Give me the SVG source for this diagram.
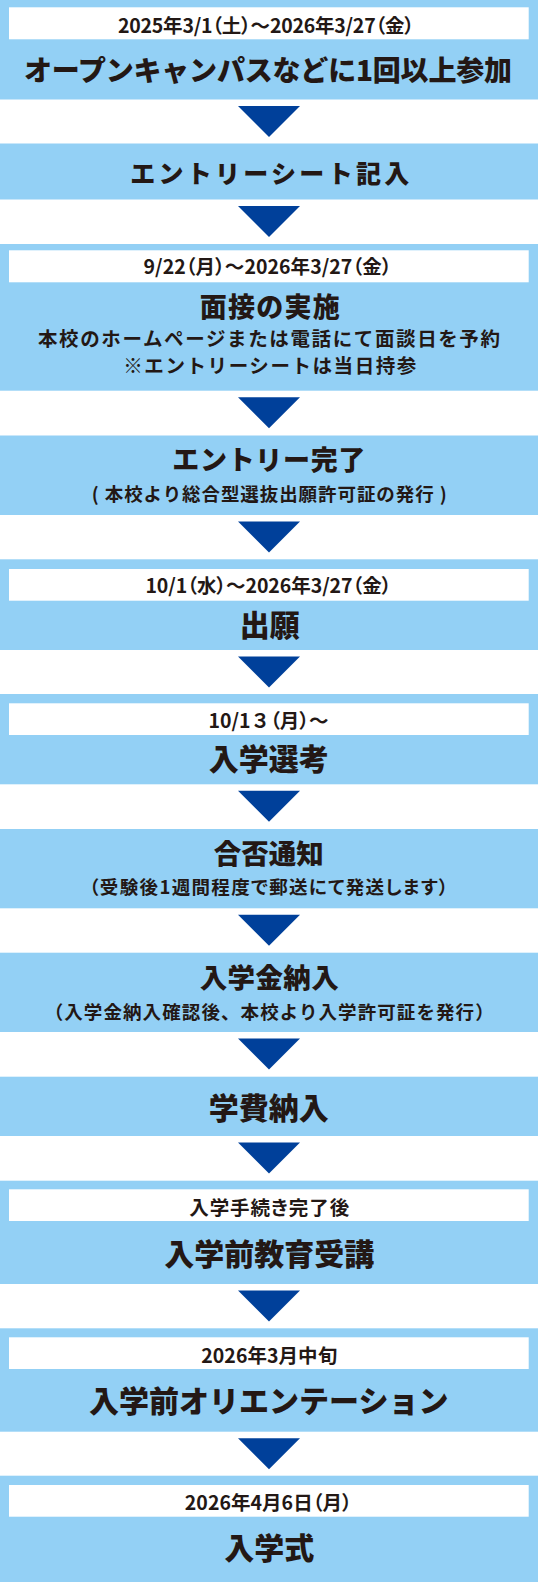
<svg xmlns="http://www.w3.org/2000/svg" width="538" height="1582" viewBox="0 0 538 1582">
<style>
.box{fill:#93D0F5}
.band{fill:#FFFFFF}
.arrow{fill:#00409A}
text{font-family:"Noto Sans CJK JP","Noto Sans CJK SC",sans-serif;fill:#231815;text-anchor:middle}
.t{font-size:30px;font-weight:900}
.d{font-size:19.5px;font-weight:700;font-feature-settings:"palt"}
.s{font-size:19px;font-weight:700}
</style>
<rect x="0" y="0" width="538" height="1582" fill="#FFFFFF"/>
<g id="step1">
<rect class="box" x="0" y="0" width="538" height="99.5"/>
<rect class="band" x="9" y="7.3" width="519.7" height="32"/>
<text class="d" x="266" y="32.7" textLength="296" lengthAdjust="spacing">2025年3/1（土）～2026年3/27（金）</text>
<text class="t" x="268" y="81" style="font-size:28px" textLength="488" lengthAdjust="spacing">オープンキャンパスなどに1回以上参加</text>
</g>
<g id="step2">
<rect class="box" x="0" y="143.5" width="538" height="56"/>
<text class="t" x="269.7" y="183" style="font-size:25px" textLength="279" lengthAdjust="spacing">エントリーシート記入</text>
</g>
<g id="step3">
<rect class="box" x="0" y="244" width="538" height="146.7"/>
<rect class="band" x="9" y="250.3" width="519.7" height="32"/>
<text class="d" x="267.5" y="274.3" textLength="248" lengthAdjust="spacing">9/22（月）～2026年3/27（金）</text>
<text class="t" x="269.7" y="316.7" style="font-size:27px" textLength="140" lengthAdjust="spacing">面接の実施</text>
<text class="s" x="269" y="346" style="font-size:19.5px" textLength="462" lengthAdjust="spacing">本校のホームページまたは電話にて面談日を予約</text>
<text class="s" x="269.8" y="373" style="font-size:19.5px" textLength="293" lengthAdjust="spacing">※エントリーシートは当日持参</text>
</g>
<g id="step4">
<rect class="box" x="0" y="435.5" width="538" height="79.5"/>
<text class="t" x="268.8" y="470" style="font-size:27px" textLength="193" lengthAdjust="spacing">エントリー完了</text>
<text class="s" x="269.2" y="500.5" style="font-size:18.5px" textLength="355" lengthAdjust="spacing">( 本校より総合型選抜出願許可証の発行 )</text>
</g>
<g id="step5">
<rect class="box" x="0" y="559.3" width="538" height="90.7"/>
<rect class="band" x="9" y="569" width="519.7" height="31.7"/>
<text class="d" x="268.4" y="593.3" textLength="246" lengthAdjust="spacing">10/1（水）～2026年3/27（金）</text>
<text class="t" x="269.7" y="636">出願</text>
</g>
<g id="step6">
<rect class="box" x="0" y="694" width="538" height="90.3"/>
<rect class="band" x="9" y="703.3" width="519.7" height="31.7"/>
<text class="d" x="268.5" y="728.3">10/1<tspan style="font-feature-settings:normal">３</tspan>（月）～</text>
<text class="t" x="268.8" y="770">入学選考</text>
</g>
<g id="step7">
<rect class="box" x="0" y="829" width="538" height="79.3"/>
<text class="t" x="268.7" y="863.5" style="font-size:27.5px">合否通知</text>
<text class="s" x="268.7" y="894" style="font-size:18.5px;font-feature-settings:'palt'" textLength="359" lengthAdjust="spacing">（受験後1週間程度で郵送にて発送します）</text>
</g>
<g id="step8">
<rect class="box" x="0" y="952.7" width="538" height="79.3"/>
<text class="t" x="269.2" y="988.3" style="font-size:27.5px" textLength="139" lengthAdjust="spacing">入学金納入</text>
<text class="s" x="269.2" y="1019" style="font-size:18.5px" textLength="449" lengthAdjust="spacing">（入学金納入確認後、本校より入学許可証を発行）</text>
</g>
<g id="step9">
<rect class="box" x="0" y="1076.7" width="538" height="59.3"/>
<text class="t" x="268.7" y="1119">学費納入</text>
</g>
<g id="step10">
<rect class="box" x="0" y="1180.7" width="538" height="103.3"/>
<rect class="band" x="9" y="1189.3" width="519.7" height="31.7"/>
<text class="d" x="269.2" y="1215" textLength="160" lengthAdjust="spacing">入学手続き完了後</text>
<text class="t" x="269.3" y="1265">入学前教育受講</text>
</g>
<g id="step11">
<rect class="box" x="0" y="1328.3" width="538" height="103.4"/>
<rect class="band" x="9" y="1337.3" width="519.7" height="31.7"/>
<text class="d" x="269.2" y="1362.5" textLength="136" lengthAdjust="spacing">2026年3月中旬</text>
<text class="t" x="268.8" y="1411.5">入学前オリエンテーション</text>
</g>
<g id="step12">
<rect class="box" x="0" y="1475.7" width="538" height="106.3"/>
<rect class="band" x="9" y="1485" width="519.7" height="31.7"/>
<text class="d" x="268.3" y="1510" textLength="167" lengthAdjust="spacing">2026年4月6日（月）</text>
<text class="t" x="269.2" y="1559">入学式</text>
</g>
<g id="connectors">
<polygon class="arrow" points="238,106 300,106 269,137"/>
<polygon class="arrow" points="238,206 300,206 269,237"/>
<polygon class="arrow" points="238,397.2 300,397.2 269,428.2"/>
<polygon class="arrow" points="238,521.5 300,521.5 269,552.5"/>
<polygon class="arrow" points="238,656.5 300,656.5 269,687.5"/>
<polygon class="arrow" points="238,790.8 300,790.8 269,821.8"/>
<polygon class="arrow" points="238,914.8 300,914.8 269,945.8"/>
<polygon class="arrow" points="238,1038.5 300,1038.5 269,1069.5"/>
<polygon class="arrow" points="238,1142.5 300,1142.5 269,1173.5"/>
<polygon class="arrow" points="238,1290.5 300,1290.5 269,1321.5"/>
<polygon class="arrow" points="238,1438.2 300,1438.2 269,1469.2"/>
</g>
</svg>
